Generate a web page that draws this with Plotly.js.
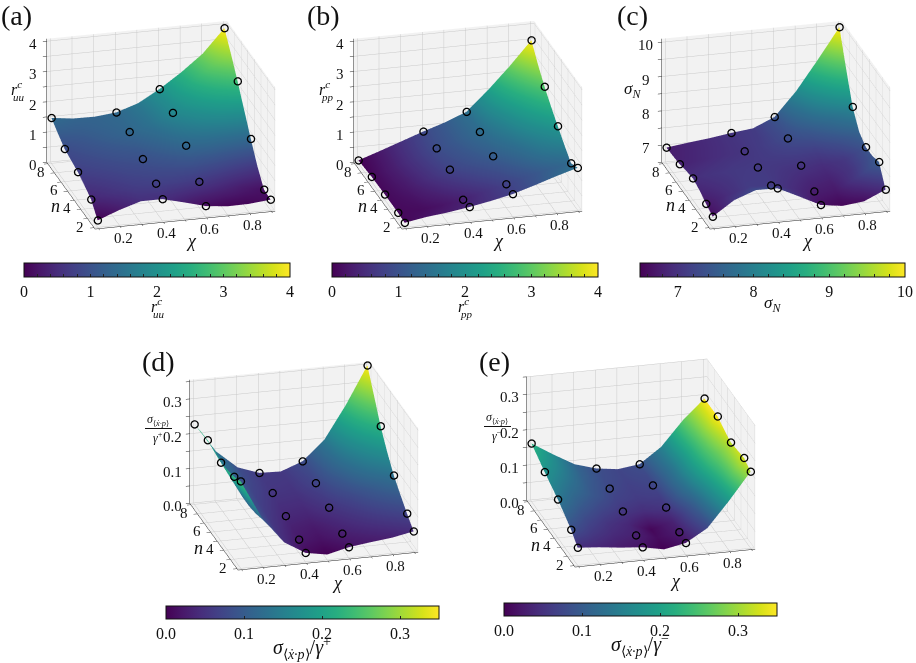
<!DOCTYPE html>
<html>
<head>
<meta charset="utf-8">
<script src="https://cdn.plot.ly/plotly-3.0.1.min.js"></script>
<style>html,body{margin:0;padding:0;background:#fff}</style>
</head>
<body>
<div id="chartBox" style="width:916px;height:663px"></div>
<script>
const chi = [0.1, 0.2, 0.3, 0.4, 0.5, 0.6, 0.7, 0.8, 0.9];
const n = [1, 2, 3, 4, 5, 6, 7, 8];

// surface heights, one row per n
const rUU = [
  [0.23, 0.50, 0.72, 0.72, 0.54, 0.35, 0.27, 0.28, 0.35],
  [0.62, 0.76, 0.88, 0.93, 0.92, 0.85, 0.68, 0.50, 0.38],
  [0.78, 0.88, 0.98, 1.04, 1.10, 1.16, 1.10, 0.98, 0.85],
  [0.92, 1.00, 1.08, 1.14, 1.28, 1.44, 1.50, 1.48, 1.45],
  [1.00, 1.10, 1.20, 1.28, 1.45, 1.68, 1.88, 2.02, 2.10],
  [1.08, 1.20, 1.32, 1.43, 1.60, 1.92, 2.20, 2.50, 2.75],
  [1.28, 1.30, 1.38, 1.45, 1.65, 2.00, 2.45, 2.95, 3.35],
  [1.50, 1.41, 1.40, 1.47, 1.70, 2.10, 2.58, 3.13, 3.90]
];
const rPP = [
  [0.15, 0.27, 0.35, 0.46, 0.59, 0.745, 0.96, 1.19, 1.40],
  [0.18, 0.20, 0.28, 0.40, 0.58, 0.77, 0.95, 1.12, 1.25],
  [0.18, 0.26, 0.42, 0.60, 0.78, 0.92, 1.14, 1.40, 1.55],
  [0.18, 0.32, 0.55, 0.79, 0.93, 1.09, 1.30, 1.60, 1.87],
  [0.17, 0.36, 0.60, 0.85, 1.02, 1.20, 1.48, 1.85, 2.20],
  [0.16, 0.38, 0.63, 0.89, 1.08, 1.29, 1.65, 2.10, 2.57],
  [0.13, 0.36, 0.62, 0.87, 1.08, 1.32, 1.85, 2.40, 3.00],
  [0.10, 0.34, 0.59, 0.84, 1.07, 1.35, 2.00, 2.72, 3.50]
];
const sigmaN = [
  [6.81, 7.23, 7.46, 7.45, 7.15, 6.84, 6.75, 6.82, 7.10],
  [6.92, 7.12, 7.28, 7.27, 7.12, 6.97, 6.92, 7.25, 7.64],
  [7.05, 7.15, 7.25, 7.27, 7.18, 7.07, 7.02, 7.20, 7.55],
  [7.13, 7.20, 7.24, 7.26, 7.22, 7.19, 7.12, 7.22, 7.54],
  [7.08, 7.14, 7.20, 7.23, 7.28, 7.32, 7.32, 7.50, 7.72],
  [7.01, 7.07, 7.14, 7.20, 7.30, 7.45, 7.60, 7.85, 8.18],
  [6.98, 7.05, 7.12, 7.20, 7.28, 7.50, 7.90, 8.45, 9.05],
  [6.96, 7.04, 7.11, 7.20, 7.27, 7.54, 8.23, 9.08, 9.97]
];
const sigmaPlus = [
  [0.250, 0.137, 0.063, 0.026, 0.015, 0.030, 0.038, 0.045, 0.057],
  [0.237, 0.125, 0.065, 0.038, 0.030, 0.043, 0.055, 0.068, 0.082],
  [0.230, 0.120, 0.070, 0.045, 0.038, 0.053, 0.070, 0.090, 0.110],
  [0.225, 0.120, 0.075, 0.053, 0.050, 0.065, 0.085, 0.112, 0.139],
  [0.230, 0.125, 0.080, 0.060, 0.058, 0.075, 0.105, 0.145, 0.180],
  [0.237, 0.130, 0.085, 0.067, 0.065, 0.083, 0.125, 0.175, 0.228],
  [0.235, 0.140, 0.090, 0.070, 0.068, 0.088, 0.138, 0.210, 0.290],
  [0.230, 0.146, 0.094, 0.072, 0.070, 0.093, 0.148, 0.242, 0.350]
];
const sigmaMinus = [
  [0.050, 0.045, 0.038, 0.033, 0.021, 0.033, 0.069, 0.140, 0.217],
  [0.075, 0.058, 0.047, 0.041, 0.028, 0.038, 0.080, 0.150, 0.230],
  [0.093, 0.070, 0.055, 0.045, 0.025, 0.042, 0.090, 0.160, 0.226],
  [0.109, 0.085, 0.068, 0.057, 0.050, 0.056, 0.105, 0.170, 0.222],
  [0.122, 0.098, 0.080, 0.065, 0.060, 0.062, 0.112, 0.175, 0.232],
  [0.135, 0.110, 0.085, 0.070, 0.063, 0.067, 0.112, 0.178, 0.244],
  [0.150, 0.120, 0.090, 0.073, 0.066, 0.070, 0.116, 0.183, 0.243],
  [0.164, 0.127, 0.093, 0.075, 0.067, 0.075, 0.118, 0.187, 0.243]
];

// the measured points are a subset of the rows and columns above
const pointCols = [0, 3, 5, 8];
const pointRows = [0, 1, 3, 5, 7];

const chiText = ['', '0.2', '', '0.4', '', '0.6', '', '0.8', ''];
const nText = ['', '2', '', '4', '', '6', '', '8'];
const zTicksR = [0, 0.5, 1, 1.5, 2, 2.5, 3, 3.5, 4];
const zTextR = ['0', '', '1', '', '2', '', '3', '', '4'];
const zTicksN = [6.5, 7, 7.5, 8, 8.5, 9, 9.5, 10];
const zTextN = ['', '7', '', '8', '', '9', '', '10'];
const zTicksS = [0, 0.05, 0.1, 0.15, 0.2, 0.25, 0.3, 0.35];
const zTextS = ['0.0', '', '0.1', '', '0.2', '', '0.3', ''];
const barTicksR = [0, 0.2, 0.4, 0.6, 0.8, 1, 1.2, 1.4, 1.6, 1.8, 2, 2.2, 2.4, 2.6, 2.8, 3, 3.2, 3.4, 3.6, 3.8, 4];
const barTextR = barTicksR.map(v => Number.isInteger(v) ? String(v) : '');
const barTicksN = [6.6, 6.8, 7, 7.2, 7.4, 7.6, 7.8, 8, 8.2, 8.4, 8.6, 8.8, 9, 9.2, 9.4, 9.6, 9.8, 10];
const barTextN = barTicksN.map(v => Number.isInteger(v) ? String(v) : '');
const barTicksS = [0, 0.1, 0.2, 0.3];
const barTextS = ['0.0', '0.1', '0.2', '0.3'];

const W = 916, H = 663;
const SERIF = '"Liberation Serif", "Times New Roman", serif';
const EYE = { x: -0.96, y: -3.59, z: 1.48 };
const CHI_RANGE = [0.083, 0.917];
const N_RANGE = [0.85, 8.15];

const panels = [
  { grid: rUU, cmin: 0.23, cmax: 3.90, zRange: [0, 4.08], zTicks: zTicksR, zText: zTextR, zPad: -14,
    barMin: 0, barMax: 4, barTicks: barTicksR, barText: barTextR, barBox: [24, 263, 266, 14],
    box: [11, 0, 300, 250] },
  { grid: rPP, cmin: 0.10, cmax: 3.50, zRange: [0, 4.08], zTicks: zTicksR, zText: zTextR, zPad: -14,
    barMin: 0, barMax: 4, barTicks: barTicksR, barText: barTextR, barBox: [332, 263, 266, 14],
    box: [318, 0, 300, 250] },
  { grid: sigmaN, cmin: 6.70, cmax: 9.97, zRange: [6.5, 10.1], zTicks: zTicksN, zText: zTextN, zPad: -16,
    barMin: 6.5, barMax: 10, barTicks: barTicksN, barText: barTextN, barBox: [640, 263, 265, 14],
    box: [636, 0, 280, 250] },
  { grid: sigmaPlus, cmin: 0.015, cmax: 0.35, zRange: [0, 0.355], zTicks: zTicksS, zText: zTextS, zPad: -17,
    barMin: 0, barMax: 0.35, barTicks: barTicksS, barText: barTextS, barBox: [166, 606, 273, 13],
    box: [154, 341, 300, 250] },
  { grid: sigmaMinus, cmin: 0.021, cmax: 0.244, zRange: [0, 0.35], zTicks: zTicksS, zText: zTextS, zPad: -17,
    barMin: 0, barMax: 0.35, barTicks: barTicksS, barText: barTextS, barBox: [504, 603, 273, 13],
    box: [491, 338, 300, 250] }
];

function axisStyle() {
  return {
    title: { text: '' },
    autorange: false,
    showbackground: true,
    backgroundcolor: '#f2f2f2',
    gridcolor: '#c9c9c9',
    gridwidth: 1,
    zeroline: false,
    showspikes: false,
    showline: true,
    linecolor: '#222',
    linewidth: 1,
    ticks: 'outside',
    ticklen: 4,
    tickcolor: '#222',
    tickmode: 'array',
    showticklabels: false
  };
}

// the axis' own labels sit too far out in this view, so they are anchored to the data instead
function tickLabel(x, y, z, text, xshift, yshift) {
  return {
    x: x, y: y, z: z, text: text, showarrow: false,
    xanchor: 'center', yanchor: 'middle', xshift: xshift, yshift: yshift,
    font: { family: SERIF, size: 15, color: '#111' }
  };
}

function label(x, y, text, size) {
  return {
    xref: 'paper', yref: 'paper', x: x / W, y: 1 - y / H,
    text: text, showarrow: false, xanchor: 'center', yanchor: 'middle',
    font: { family: SERIF, size: size || 16, color: '#111' }
  };
}

const data = [];
const layout = {
  width: W, height: H,
  margin: { l: 0, r: 0, t: 0, b: 0 },
  paper_bgcolor: '#fff',
  showlegend: false,
  hovermode: false,
  annotations: [],
  shapes: []
};

panels.forEach((p, i) => {
  const scene = i === 0 ? 'scene' : 'scene' + (i + 1);
  // second scene on top, same view, so the circles are not cut by the surface
  const topScene = 'scene' + (i + 6);
  const px = [], py = [], pz = [];
  pointRows.forEach(r => pointCols.forEach(c => {
    px.push(chi[c]); py.push(n[r]); pz.push(p.grid[r][c]);
  }));

  data.push({
    type: 'surface', scene: scene, x: chi, y: n, z: p.grid,
    colorscale: 'Viridis', cmin: p.cmin, cmax: p.cmax, showscale: false,
    hoverinfo: 'skip',
    lighting: { ambient: 1, diffuse: 0, specular: 0, fresnel: 0, roughness: 1 }
  });
  data.push({
    type: 'scatter3d', scene: topScene, mode: 'markers', x: px, y: py, z: pz,
    hoverinfo: 'skip',
    marker: { symbol: 'circle-open', size: 4.5, color: '#000', line: { width: 1.2, color: '#000' } }
  });
  // carries the colour bar only, its range differs from the surface's
  data.push({
    type: 'scatter3d', scene: topScene, mode: 'markers', x: px, y: py, z: pz,
    hoverinfo: 'skip',
    marker: {
      size: 1, opacity: 0, color: pz, colorscale: 'Viridis',
      cmin: p.barMin, cmax: p.barMax, showscale: true,
      colorbar: {
        orientation: 'h',
        x: p.barBox[0] / W, xanchor: 'left', xpad: 0,
        y: 1 - p.barBox[1] / H, yanchor: 'top', ypad: 0,
        lenmode: 'pixels', len: p.barBox[2],
        thicknessmode: 'pixels', thickness: p.barBox[3],
        outlinecolor: '#111', outlinewidth: 1,
        tickmode: 'array', tickvals: p.barTicks, ticktext: p.barText,
        ticks: 'inside', ticklen: 3, tickcolor: '#222',
        tickfont: { family: SERIF, size: 16, color: '#111' }
      }
    }
  });

  const tickLabels = [];
  chi.forEach((v, k) => { if (chiText[k]) tickLabels.push(tickLabel(v, N_RANGE[0], p.zRange[0], chiText[k], 3, -11)); });
  n.forEach((v, k) => { if (nText[k]) tickLabels.push(tickLabel(CHI_RANGE[0], v, p.zRange[0], nText[k], -7, -8)); });
  p.zTicks.forEach((v, k) => { if (p.zText[k]) tickLabels.push(tickLabel(CHI_RANGE[0], N_RANGE[1], v, p.zText[k], p.zPad, -3)); });

  const b = p.box;
  const domain = { x: [b[0] / W, (b[0] + b[2]) / W], y: [1 - (b[1] + b[3]) / H, 1 - b[1] / H] };
  const camera = { eye: EYE, up: { x: 0, y: 0, z: 1 }, center: { x: 0, y: 0, z: 0 }, projection: { type: 'orthographic' } };
  // in orthographic view the aspect ratio is also the zoom
  const aspect = { x: 1.493, y: 1.493, z: 1.064 };
  layout[scene] = {
    domain: domain, aspectmode: 'manual', aspectratio: aspect, camera: camera,
    annotations: tickLabels,
    xaxis: Object.assign(axisStyle(), { range: CHI_RANGE, tickvals: chi }),
    yaxis: Object.assign(axisStyle(), { range: N_RANGE, tickvals: n }),
    zaxis: Object.assign(axisStyle(), { range: p.zRange, tickvals: p.zTicks })
  };
  layout[topScene] = {
    domain: domain, aspectmode: 'manual', aspectratio: aspect, camera: camera,
    xaxis: { visible: false, autorange: false, range: CHI_RANGE },
    yaxis: { visible: false, autorange: false, range: N_RANGE },
    zaxis: { visible: false, autorange: false, range: p.zRange }
  };
});

const sup = '<i>r<sup>c</sup></i>';
layout.annotations.push(
  label(16, 15, '(a)', 28), label(323, 15, '(b)', 28), label(632, 15, '(c)', 28),
  label(158, 362, '(d)', 28), label(494, 362, '(e)', 28),

  label(191, 241, '<i>χ</i>', 18), label(55, 206, '<i>n</i>', 18),
  label(498, 241, '<i>χ</i>', 18), label(362, 206, '<i>n</i>', 18),
  label(807, 241, '<i>χ</i>', 18), label(670, 205, '<i>n</i>', 18),
  label(337, 583, '<i>χ</i>', 18), label(198, 548, '<i>n</i>', 18),
  label(675, 581, '<i>χ</i>', 18), label(535, 545, '<i>n</i>', 18),

  label(16, 88, sup, 16), label(19, 97, '<i>uu</i>', 11),
  label(156, 305, sup, 16), label(159, 314, '<i>uu</i>', 11),
  label(324, 88, sup, 16), label(327, 97, '<i>pp</i>', 11),
  label(463, 305, sup, 16), label(466, 314, '<i>pp</i>', 11),
  label(632, 90, '<i>σ<sub>N</sub></i>', 17),
  label(772, 304, '<i>σ<sub>N</sub></i>', 17),

  label(158, 420, '<i>σ</i><sub>⟨<i>ẋ·p</i>⟩</sub>', 12),
  label(158, 437, '<i>γ</i><sup>+</sup>', 12),
  label(497, 418, '<i>σ</i><sub>⟨<i>ẋ·p</i>⟩</sub>', 12),
  label(497, 435, '<i>γ</i><sup>−</sup>', 12),
  label(302, 648, '<i>σ</i><sub>⟨<i>ẋ·p</i>⟩</sub>/<i>γ</i><sup>+</sup>', 20),
  label(640, 645, '<i>σ</i><sub>⟨<i>ẋ·p</i>⟩</sub>/<i>γ</i><sup>−</sup>', 20)
);
layout.shapes.push(
  { type: 'line', xref: 'paper', yref: 'paper', x0: 145 / W, x1: 172 / W, y0: 1 - 428.5 / H, y1: 1 - 428.5 / H, line: { color: '#111', width: 1 } },
  { type: 'line', xref: 'paper', yref: 'paper', x0: 484 / W, x1: 511 / W, y0: 1 - 426.5 / H, y1: 1 - 426.5 / H, line: { color: '#111', width: 1 } }
);

Plotly.newPlot('chartBox', data, layout, { displayModeBar: false });
</script>
</body>
</html>
